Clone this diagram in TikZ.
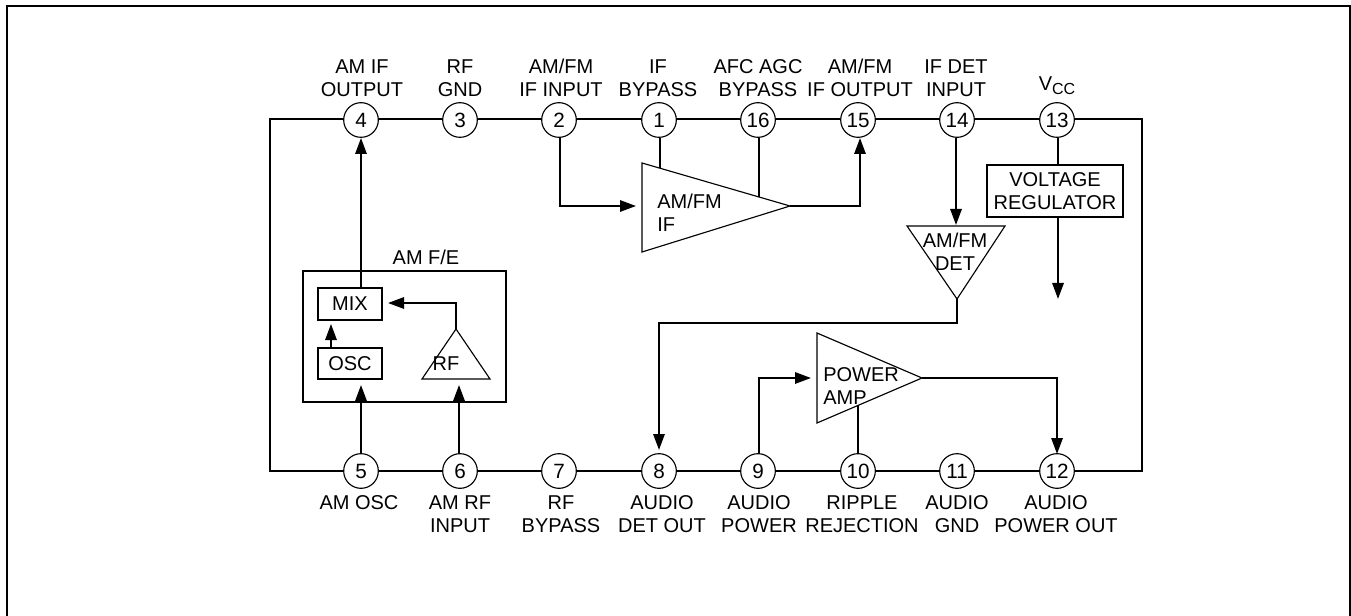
\documentclass[tikz,border=0pt]{standalone}
\usepackage{fontspec}
\setmainfont{Liberation Sans}
\usetikzlibrary{arrows.meta}
\tikzset{
  x=0.75pt,y=-0.75pt,
  pin/.style={circle,draw,line width=0.85pt,minimum size=26pt,inner sep=0pt,font=\fontsize{15.5}{15.5}\selectfont,fill=white},
  lbl/.style={align=center,inner sep=0pt,font=\fontsize{15}{17.25}\selectfont},
  wire/.style={line width=1.5pt},
  sig/.style={line width=1.5pt,-{Triangle[length=12pt,width=8.5pt]}},
  blockbox/.style={draw,line width=1.5pt,inner sep=0pt,align=center,font=\fontsize{15}{17.25}\selectfont},
  tri/.style={draw,line width=0.85pt,line join=miter},
  frame/.style={line width=1.5pt}
}
\begin{document}
\begin{tikzpicture}
\useasboundingbox (0,0) rectangle (1351,616);
% open page frame
\coordinate (fa) at (7,616); \coordinate (fb) at (7,6);
\coordinate (fc) at (1350,6); \coordinate (fd) at (1350,616);
\begin{scope}
\clip (0,0) rectangle (1351,616);
\draw[frame] (fa) -- (fb) -- (fc) -- (fd);
\end{scope}
% corners of the chip outline
\coordinate (tl) at (270,119); \coordinate (tr) at (1142,119);
\coordinate (bl) at (270,471); \coordinate (br) at (1142,471);
% wire under the pins
\draw[wire] (tl) -- (tr) -- (br) -- (bl) -- cycle;
% top pins
\node[pin] (p4) at (361,120) {4};
\node[pin] (p3) at (460,120) {3};
\node[pin] (p2) at (559,120) {2};
\node[pin] (p1) at (659,120) {1};
\node[pin] (p16) at (758,120) {16};
\node[pin] (p15) at (858,120) {15};
\node[pin] (p14) at (957,120) {14};
\node[pin] (p13) at (1057,120) {13};
% bottom pins
\node[pin] (p5) at (361,471) {5};
\node[pin] (p6) at (460,471) {6};
\node[pin] (p7) at (559,471) {7};
\node[pin] (p8) at (659,471) {8};
\node[pin] (p9) at (758,471) {9};
\node[pin] (p10) at (858,471) {10};
\node[pin] (p11) at (957,471) {11};
\node[pin] (p12) at (1057,471) {12};
% top labels
\node[lbl] (l4) at (362,78) {AM IF\\OUTPUT};
\node[lbl] (l3) at (460,78) {RF\\GND};
\node[lbl] (l2) at (561,78) {AM/FM\\IF INPUT};
\node[lbl] (l1) at (658,78) {IF\\BYPASS};
\node[lbl] (l16) at (758,78) {AFC AGC\\BYPASS};
\node[lbl] (l15) at (860,78) {AM/FM\\IF OUTPUT};
\node[lbl] (l14) at (956,78) {IF DET\\INPUT};
\node[lbl] (l13) at (1057,86) {V\raisebox{-3pt}{\fontsize{12}{12}\selectfont CC}};
% bottom labels
\node[lbl] (l5) at (359,503) {AM OSC};
\node[lbl] (l6) at (460,514.5) {AM RF\\INPUT};
\node[lbl] (l7) at (561,514.5) {RF\\BYPASS};
\node[lbl] (l8) at (662,514.5) {AUDIO\\DET OUT};
\node[lbl] (l9) at (759,514.5) {AUDIO\\POWER};
\node[lbl] (l10) at (862,514.5) {RIPPLE\\REJECTION};
\node[lbl] (l11) at (957,514.5) {AUDIO\\GND};
\node[lbl] (l12) at (1056,514.5) {AUDIO\\POWER OUT};
% AM/FM IF amplifier
\coordinate (ifa) at (642,163); \coordinate (ifb) at (642,252); \coordinate (ift) at (790,206);
\draw[tri] (ifa) -- (ift) -- (ifb) -- cycle;
\node[lbl,align=left,anchor=west] (iftxt) at (657,212.5) {AM/FM\\IF};
\coordinate (ifin) at (636,206);
\coordinate (if1) at (659.5,168);
\coordinate (if16) at (759,197);
\coordinate (p2s) at (560,137);
\draw[sig] (p2s) |- (ifin);
\draw[wire] (p1.south) ++(0.5,0) -- (if1);
\draw[wire] (p16.south) ++(1,0) -- (if16);
\coordinate (p15a) at (860,138);
\draw[sig] (ift) -| (p15a);
% AM/FM DET
\coordinate (da) at (907,226); \coordinate (db) at (1005,226); \coordinate (dt) at (957,299);
\draw[tri] (da) -- (db) -- (dt) -- cycle;
\node[lbl] (dtxt) at (955,251.5) {AM/FM\\DET};
\coordinate (d14) at (956,225);
\draw[sig] (p14.south) ++(-1,0) -- (d14);
\coordinate (p8a) at (659,450);
\draw[sig] (dt) -- (957,323) -| (p8a);
% Voltage regulator
\node[blockbox,minimum width=136*0.75pt,minimum height=52*0.75pt] (vr) at (1055,191) {VOLTAGE\\REGULATOR};
\coordinate (vrt) at (1058,165); \coordinate (vrb) at (1058,217); \coordinate (vrend) at (1058,299);
\draw[wire] (p13.south) ++(1,0) -- (vrt);
\draw[sig] (vrb) -- (vrend);
% AM F/E
\node[blockbox,minimum width=203*0.75pt,minimum height=131*0.75pt] (fe) at (404.5,336.5) {};
\node[lbl] (fel) at (426,257) {AM F/E};
\node[blockbox,minimum width=64*0.75pt,minimum height=32*0.75pt] (mix) at (350,304) {MIX};
\node[blockbox,minimum width=64*0.75pt,minimum height=31*0.75pt] (osc) at (350,363.5) {OSC};
\coordinate (ra) at (422,379); \coordinate (rb) at (490,379); \coordinate (rt) at (456,329);
\draw[tri] (ra) -- (rt) -- (rb) -- cycle;
\node[lbl] (rtxt) at (446,364) {RF};
% AM F/E connections
\coordinate (p4a) at (361,138); \coordinate (mixt) at (361,288);
\draw[sig] (mixt) -- (p4a);
\coordinate (mixr) at (388,303);
\draw[sig] (rt) |- (mixr);
\coordinate (osct) at (331,348); \coordinate (mixb) at (331,324);
\draw[sig] (osct) -- (mixb);
\coordinate (oscin) at (361,385); \coordinate (rfin) at (459,385);
\coordinate (p5t) at (361,454); \coordinate (p6t) at (459,454);
\draw[sig] (p5t) -- (oscin);
\draw[sig] (p6t) -- (rfin);
% Power amp
\coordinate (pa) at (817,333); \coordinate (pb) at (817,423); \coordinate (pt) at (922,378);
\draw[tri] (pa) -- (pt) -- (pb) -- cycle;
\node[lbl,align=left,anchor=west] (ptxt) at (823,386) {POWER\\AMP};
\coordinate (pin) at (811,378); \coordinate (p9t) at (759,454);
\draw[sig] (p9t) |- (pin);
\coordinate (p10t) at (858,454); \coordinate (pb10) at (858,405);
\draw[wire] (p10t) -- (pb10);
\coordinate (p12a) at (1057,454);
\draw[sig] (pt) -| (p12a);
\end{tikzpicture}
\end{document}
